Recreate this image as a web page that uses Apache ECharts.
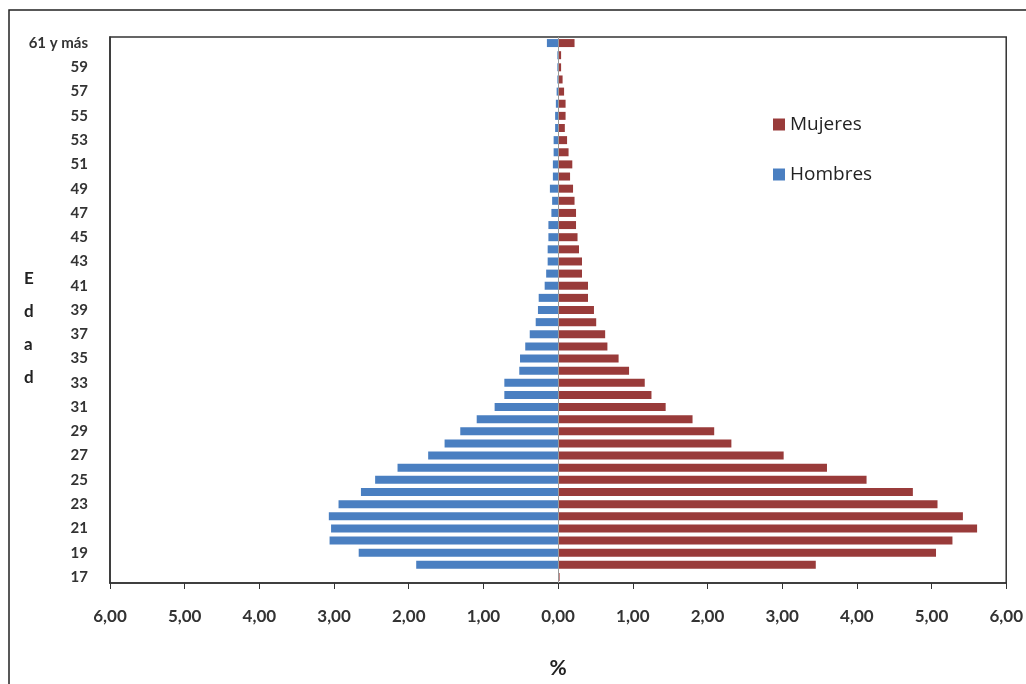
<!DOCTYPE html>
<html>
<head>
<meta charset="utf-8">
<script src="https://cdn.jsdelivr.net/npm/echarts@6/dist/echarts.min.js"></script>
<style>html,body{margin:0;padding:0;background:#fff;overflow:hidden;}#c{width:1026px;height:684px;}</style>
</head>
<body>
<div id="c"></div>
<script>
const ages = ['17','18','19','20','21','22','23','24','25','26','27','28','29','30','31','32','33','34','35','36','37','38','39','40','41','42','43','44','45','46','47','48','49','50','51','52','53','54','55','56','57','58','59','60','61 y más'];
const hombres = [0,1.90,2.67,3.06,3.04,3.07,2.94,2.64,2.45,2.15,1.74,1.52,1.31,1.09,0.85,0.72,0.72,0.52,0.51,0.44,0.38,0.30,0.27,0.26,0.18,0.16,0.14,0.14,0.13,0.13,0.09,0.08,0.11,0.07,0.07,0.06,0.06,0.04,0.04,0.03,0.02,0.01,0.01,0.01,0.15];
const mujeres = [0.02,3.45,5.06,5.28,5.61,5.42,5.08,4.75,4.13,3.60,3.02,2.32,2.09,1.80,1.44,1.25,1.16,0.95,0.81,0.66,0.63,0.51,0.48,0.40,0.40,0.32,0.32,0.28,0.26,0.24,0.24,0.22,0.20,0.16,0.19,0.14,0.12,0.09,0.10,0.10,0.08,0.06,0.04,0.04,0.22];
const xTicks = {min: -6, max: 6, interval: 1};

const FONT = 'Lato';
const chart = echarts.init(document.getElementById('c'));
chart.setOption({
  animation: false,
  backgroundColor: '#fff',
  textStyle: {fontFamily: FONT},
  grid: {left: 110, right: 14, top: 37, bottom: 91, show: true, borderColor: '#333', borderWidth: 1.5, containLabel: false},
  legend: {
    data: ['Mujeres', 'Hombres'],
    orient: 'vertical',
    left: 768, top: 110,
    itemWidth: 12, itemHeight: 12, itemGap: 31,
    icon: 'rect',
    textStyle: {fontFamily: 'Open Sans', fontSize: 19, color: '#222'}
  },
  xAxis: {
    type: 'value',
    min: xTicks.min, max: xTicks.max, interval: xTicks.interval,
    name: '%', nameLocation: 'middle', nameGap: 75,
    nameTextStyle: {fontFamily: FONT, fontSize: 21, fontWeight: 'bold', color: '#222'},
    axisLine: {show: true, lineStyle: {color: '#333', width: 1.5}},
    axisTick: {show: true, length: 6, lineStyle: {color: '#333'}},
    splitLine: {show: false},
    axisLabel: {
      margin: 25, fontFamily: FONT, fontSize: 17, fontWeight: 'bold', color: '#333',
      formatter: v => Math.abs(v).toFixed(2).replace('.', ',')
    }
  },
  yAxis: {
    type: 'category',
    data: ages,
    axisLine: {show: true, onZero: false, lineStyle: {color: '#333', width: 1.5}},
    axisTick: {show: false},
    axisLabel: {interval: 1, margin: 22, fontFamily: FONT, fontSize: 15, fontWeight: 'bold', color: '#333'}
  },
  series: [
    {
      name: 'Hombres', type: 'bar', data: hombres.map(v => -v),
      barWidth: 8, barGap: '-100%',
      itemStyle: {color: '#4a7fc1'},
      markLine: {
        silent: true, symbol: 'none', label: {show: false},
        lineStyle: {color: '#999', width: 1, type: 'solid'},
        data: [{xAxis: 0}]
      }
    },
    {
      name: 'Mujeres', type: 'bar', data: mujeres,
      barWidth: 8, barGap: '-100%',
      itemStyle: {color: '#993b3a'}
    }
  ],
  graphic: [
    {type: 'rect', shape: {x: 9, y: 10, width: 1040, height: 700}, style: {fill: 'none', stroke: '#222', lineWidth: 1.5}, silent: true},
    {type: 'text', left: 24, top: 262, style: {text: 'E\nd\na\nd', fontFamily: FONT, fontSize: 17, fontWeight: 'bold', lineHeight: 33, fill: '#222', align: 'center'}}
  ]
});
</script>
</body>
</html>
